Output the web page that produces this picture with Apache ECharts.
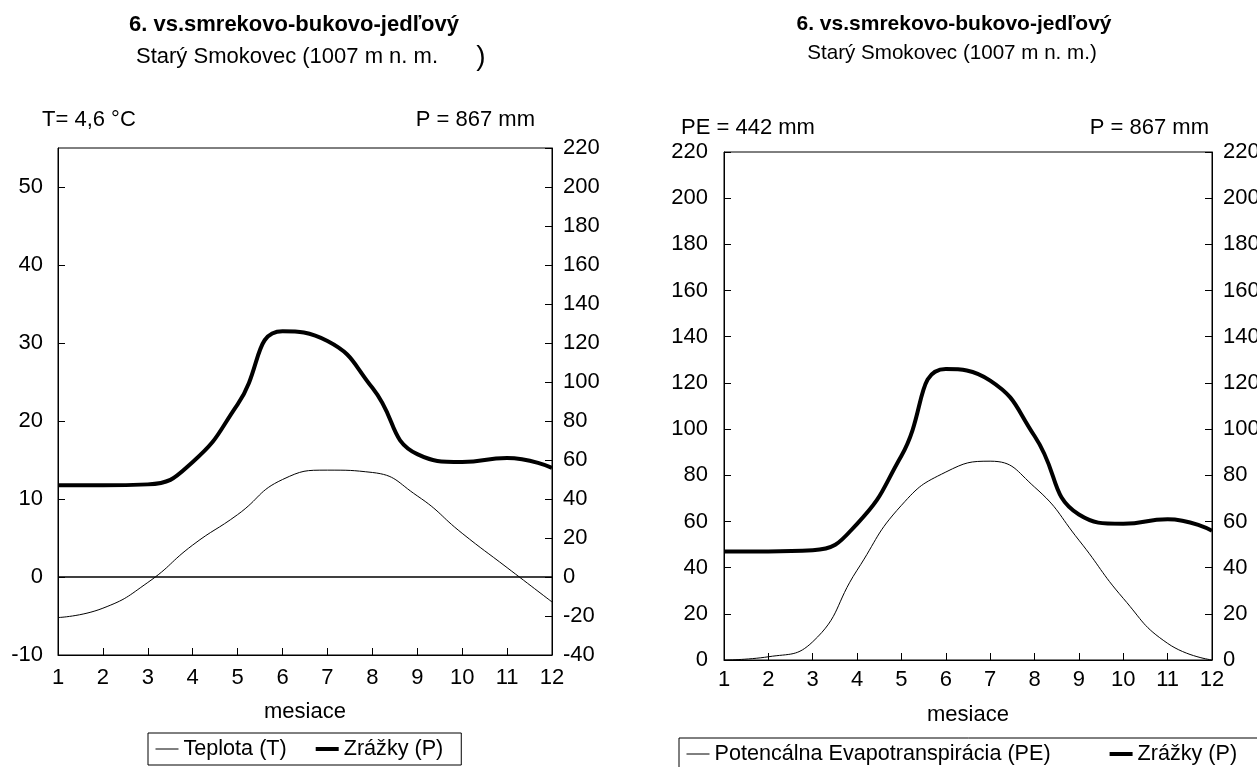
<!DOCTYPE html>
<html>
<head>
<meta charset="utf-8">
<title>Starý Smokovec</title>
<script src="https://cdn.jsdelivr.net/npm/echarts@6.0.0/dist/echarts.min.js"></script>
<style>
  html, body { margin: 0; padding: 0; background: #fff; }
</style>
</head>
<body>
<div id="myChart" style="width: 1257px; height: 767px;"></div>
<script>
// mesiace 1..12
const months = [1, 2, 3, 4, 5, 6, 7, 8, 9, 10, 11, 12];
// teplota (°C)
const teplota = [-5.2, -4.0, -0.7, 4.1, 8.0, 12.5, 13.7, 13.4, 10.4, 5.6, 1.2, -3.2];
// zrážky (mm)
const zrazky = [47, 47, 47.5, 59, 88.5, 126, 121, 97, 63, 59, 61, 56];
// potenciálna evapotranspirácia (mm)
const pe = [0, 1.4, 7.9, 38.9, 67, 81.4, 86.1, 74.9, 51.9, 26.7, 7.2, 0];

const FONT = '"Liberation Sans", Arial, sans-serif';

function pairs(vals) {
  return months.map((m, i) => [m, vals[i]]);
}

function xAxisFor(grid, margin) {
  return {
    type: 'value',
    gridIndex: grid,
    min: 1,
    max: 12,
    interval: 1,
    name: 'mesiace',
    nameLocation: 'middle',
    nameGap: grid === 0 ? 46 : 44,
    nameTextStyle: {color: '#000', fontSize: 22, fontFamily: FONT},
    axisLine: {onZero: false, lineStyle: {color: '#000', width: 1}},
    axisTick: {inside: true, length: 7, lineStyle: {color: '#000'}},
    axisLabel: {color: '#000', fontSize: 22, fontFamily: FONT, margin: margin},
    splitLine: {show: false}
  };
}

function yAxisFor(grid, pos, min, max, interval, margin) {
  return {
    type: 'value',
    gridIndex: grid,
    position: pos,
    min: min,
    max: max,
    interval: interval,
    axisLine: {show: true, onZero: false, lineStyle: {color: '#000', width: 1}},
    axisTick: {show: true, inside: true, length: 7, lineStyle: {color: '#000'}},
    axisLabel: {color: '#000', fontSize: 22, fontFamily: FONT, margin: margin, showMaxLabel: max % interval === 0},
    splitLine: {show: false}
  };
}

function txt(x, y, text, size, opts) {
  opts = opts || {};
  return {
    type: 'text',
    x: x,
    y: y,
    silent: true,
    style: {
      text: text,
      fill: '#000',
      font: (opts.bold ? 'bold ' : '') + size + 'px ' + FONT,
      align: opts.align || 'center',
      textAlign: opts.align || 'center',
      verticalAlign: 'middle',
      textVerticalAlign: 'middle'
    }
  };
}

// legenda: len čiara (hrúbka zo série), bez kruhového symbolu
function legendFor(names, left, top, gap, padding) {
  return {
    data: names,
    left: left,
    top: top,
    width: 700,
    orient: 'horizontal',
    itemWidth: 23,
    itemHeight: 14,
    itemGap: gap,
    padding: padding,
    borderColor: '#000',
    borderWidth: 1,
    selectedMode: false,
    itemStyle: {color: 'transparent', borderWidth: 0, opacity: 0},
    lineStyle: {width: 'inherit'},
    textStyle: {color: '#000', fontSize: 21.6, fontFamily: FONT}
  };
}

let myChart = echarts.init(document.getElementById('myChart'));

let option = {
  animation: false,
  backgroundColor: '#fff',
  grid: [
    {left: 58, top: 148, right: 705, bottom: 112, outerBoundsMode: 'none', show: true, borderColor: '#000', borderWidth: 1},
    {left: 724, top: 152, right: 45, bottom: 107, outerBoundsMode: 'none', show: true, borderColor: '#000', borderWidth: 1}
  ],
  xAxis: [xAxisFor(0, 12), xAxisFor(1, 9)],
  yAxis: [
    yAxisFor(0, 'left', -10, 55, 10, 15),
    yAxisFor(0, 'right', -40, 220, 20, 11),
    yAxisFor(1, 'left', 0, 220, 20, 16),
    yAxisFor(1, 'right', 0, 220, 20, 11)
  ],
  legend: [
    legendFor(['Teplota (T)', 'Zrážky (P)'], 148, 733, 27, [5, 18, 5, 7]),
    legendFor(['Potencálna Evapotranspirácia (PE)', 'Zrážky (P)'], 679, 738, 57, [5, 40, 10, 7])
  ],
  graphic: [
    txt(294, 25, '6. vs.smrekovo-bukovo-jedľový', 22, {bold: true}),
    txt(136, 57, 'Starý Smokovec (1007 m n. m.', 22, {align: 'left'}),
    txt(481, 57, ')', 28),
    txt(42, 120, 'T= 4,6 °C', 22, {align: 'left'}),
    txt(535, 120, 'P = 867 mm', 22, {align: 'right'}),
    txt(954, 24, '6. vs.smrekovo-bukovo-jedľový', 21, {bold: true}),
    txt(952, 53, 'Starý Smokovec (1007 m n. m.)', 20.6),
    txt(681, 128, 'PE = 442 mm', 22, {align: 'left'}),
    txt(1209, 128, 'P = 867 mm', 22, {align: 'right'})
  ],
  series: [
    {
      name: 'Teplota (T)',
      type: 'line',
      xAxisIndex: 0,
      yAxisIndex: 0,
      smooth: true,
      symbol: 'none',
      lineStyle: {color: '#000', width: 1},
      itemStyle: {color: '#000'},
      data: pairs(teplota),
      markLine: {
        silent: true,
        symbol: 'none',
        label: {show: false},
        lineStyle: {color: '#000', type: 'solid', width: 1.5},
        data: [{yAxis: 0}]
      }
    },
    {
      name: 'Zrážky (P)',
      type: 'line',
      xAxisIndex: 0,
      yAxisIndex: 1,
      smooth: true,
      symbol: 'none',
      lineStyle: {color: '#000', width: 4},
      itemStyle: {color: '#000'},
      data: pairs(zrazky)
    },
    {
      name: 'Potencálna Evapotranspirácia (PE)',
      type: 'line',
      xAxisIndex: 1,
      yAxisIndex: 2,
      smooth: true,
      symbol: 'none',
      lineStyle: {color: '#000', width: 1},
      itemStyle: {color: '#000'},
      data: pairs(pe)
    },
    {
      name: 'Zrážky (P)',
      type: 'line',
      xAxisIndex: 1,
      yAxisIndex: 2,
      smooth: true,
      symbol: 'none',
      lineStyle: {color: '#000', width: 4},
      itemStyle: {color: '#000'},
      data: pairs(zrazky)
    }
  ]
};

myChart.setOption(option);
</script>
</body>
</html>
